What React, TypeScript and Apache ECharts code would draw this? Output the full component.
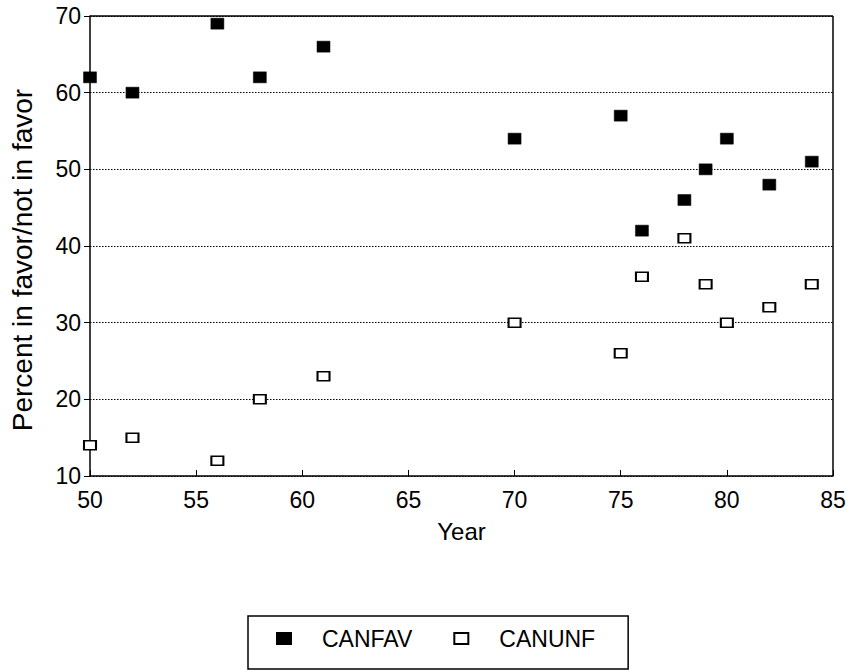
import React, { useEffect, useRef } from "react";
import * as echarts from "echarts";

const years = [50, 52, 56, 58, 61, 70, 75, 76, 78, 79, 80, 82, 84];
const canfav = [62, 60, 69, 62, 66, 54, 57, 42, 46, 50, 54, 48, 51];
const canunf = [14, 15, 12, 20, 23, 30, 26, 36, 41, 35, 30, 32, 35];
const seriesNames = ["CANFAV", "CANUNF"];
const xTitle = "Year";
const yTitle = "Percent in favor/not in favor";

const FONT = "'Liberation Sans', Arial, Helvetica, sans-serif";

export default function App() {
  const ref = useRef<HTMLDivElement>(null);
  useEffect(() => {
    document.body.style.margin = "0";
    const chart = echarts.init(ref.current!, null, { renderer: "svg" });
    const fav = years.map((y, i) => [y, canfav[i]]);
    const unf = years.map((y, i) => [y, canunf[i]]);
    chart.setOption({
      animation: false,
      backgroundColor: "#fff",
      textStyle: { fontFamily: FONT },
      grid: { left: 90, right: 18, top: 16, bottom: 194, show: false },
      xAxis: {
        type: "value",
        min: 50,
        max: 85,
        interval: 5,
        name: xTitle,
        nameLocation: "middle",
        nameGap: 43,
        nameTextStyle: { fontSize: 24, color: "#000", fontFamily: FONT },
        axisLine: { show: true, lineStyle: { color: "#000", width: 1.5 } },
        axisTick: { show: true, inside: true, length: 6, lineStyle: { color: "#000", width: 1 } },
        axisLabel: { fontSize: 23, color: "#000", margin: 12, fontFamily: FONT },
        splitLine: { show: false },
      },
      yAxis: {
        type: "value",
        min: 10,
        max: 70,
        interval: 10,
        axisLine: { show: true, lineStyle: { color: "#000", width: 1.5 } },
        axisTick: { show: true, inside: false, length: 6, lineStyle: { color: "#000", width: 1 } },
        axisLabel: { fontSize: 23, color: "#000", margin: 9, fontFamily: FONT },
        splitLine: {
          show: true,
          lineStyle: { color: "#000", type: [1.5, 1.5], width: 1 },
        },
      },
      legend: {
        left: 248,
        top: 616,
        itemWidth: 14,
        itemHeight: 11,
        itemGap: 41,
        padding: [11, 33, 19, 28],
        borderColor: "#000",
        borderWidth: 1.5,
        textStyle: { fontSize: 23, color: "#000", fontFamily: FONT, padding: [0, 0, 0, 26] },
        data: seriesNames,
      },
      graphic: [
        {
          type: "text",
          x: 22,
          y: 260,
          rotation: Math.PI / 2,
          style: {
            text: yTitle,
            fontSize: 28,
            fontFamily: FONT,
            fill: "#000",
            align: "center",
            verticalAlign: "middle",
          },
        },
        {
          type: "line",
          shape: { x1: 90, y1: 16, x2: 833, y2: 16 },
          style: { stroke: "#000", lineWidth: 1.5 },
        },
        {
          type: "line",
          shape: { x1: 833, y1: 16, x2: 833, y2: 476 },
          style: { stroke: "#000", lineWidth: 1.5 },
        },
      ],
      series: [
        {
          name: seriesNames[0],
          type: "scatter",
          data: fav,
          symbol: "rect",
          symbolSize: [13, 11],
          itemStyle: { color: "#000", borderColor: "#000", borderWidth: 0.5, opacity: 1 },
          z: 3,
        },
        {
          name: seriesNames[1],
          type: "scatter",
          data: unf,
          symbol: "rect",
          symbolSize: [12, 9],
          itemStyle: { color: "#fff", borderColor: "#000", borderWidth: 1.8, opacity: 1 },
          z: 2,
        },
      ],
    });
    return () => chart.dispose();
  }, []);
  return <div ref={ref} style={{ width: 851, height: 670, position: "absolute", left: 0, top: 0 }} />;
}
